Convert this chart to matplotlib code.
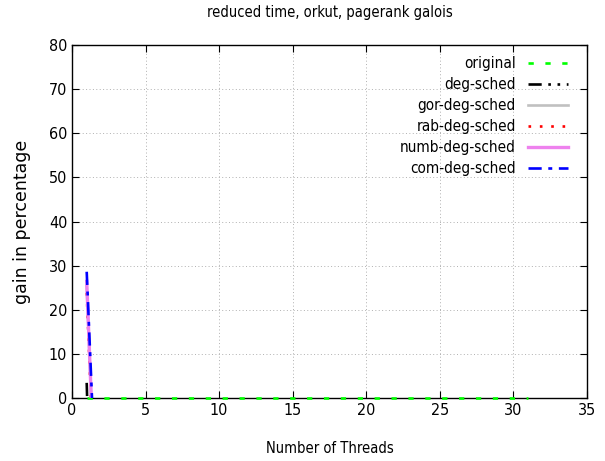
import matplotlib
matplotlib.use('Agg')
import matplotlib.pyplot as plt

# data (values below 0 are clipped by the y range, as in the original)
threads = [1, 2, 4, 8, 16, 31]
original = [0, 0, 0, 0, 0, 0]
deg_sched = [3.4, -110, -110, -110, -110, -110]
gor_deg_sched = [25.5, -58, -58, -58, -58, -58]
rab_deg_sched = [23.8, -60, -60, -60, -60, -60]
numb_deg_sched = [26.4, -59, -59, -59, -59, -59]
com_deg_sched = [28.6, -51, -51, -51, -51, -51]

labels = ['original', 'deg-sched', 'gor-deg-sched', 'rab-deg-sched',
          'numb-deg-sched', 'com-deg-sched']

fnt = dict(family='DejaVu Sans', stretch='condensed')

fig = plt.figure(figsize=(6.05, 4.61), dpi=100)
ax = fig.add_axes([0.119, 0.137, 0.851, 0.765])

lw = 1.9
ax.plot(threads, original, color='#00ff00', lw=lw, dashes=(2, 4.4), label=labels[0], zorder=3, clip_on=False)
ax.plot(threads, deg_sched, color='black', lw=lw, dashes=(5, 2.5, 1, 2.5, 1, 2.5, 1, 2.5), label=labels[1], zorder=3)
ax.plot(threads, gor_deg_sched, color='#c0c0c0', lw=lw, label=labels[2], zorder=3)
ax.plot(threads, rab_deg_sched, color='red', lw=lw, dashes=(1, 3.3), label=labels[3], zorder=3)
ax.plot(threads, numb_deg_sched, color='#ee82ee', lw=lw + 0.5, label=labels[4], zorder=3)
ax.plot(threads, com_deg_sched, color='blue', lw=lw, dashes=(5, 2.5, 1.5, 2.5), label=labels[5], zorder=3)

ax.set_xlim(0, 35)
ax.set_ylim(0, 80)
ax.set_xticks(range(0, 36, 5))
ax.set_yticks(range(0, 81, 10))
ax.grid(True, color='#b0b0b0', linestyle=(0, (1, 2.5)), linewidth=0.7)
ax.tick_params(direction='in', top=True, right=True, length=5, width=0.8, labelsize=11.5)
for lab in ax.get_xticklabels() + ax.get_yticklabels():
    lab.set_fontstretch('condensed')
for s in ax.spines.values():
    s.set_linewidth(1.0)

ax.set_title('reduced time, orkut, pagerank galois', fontsize=10.5, pad=20, **fnt)
ax.set_xlabel('Number of Threads', fontsize=10.5, labelpad=17, **fnt)
ax.set_ylabel('gain in percentage', fontsize=12.5, labelpad=13)

leg = ax.legend(loc='upper right', bbox_to_anchor=(0.975, 0.987), frameon=False,
                markerfirst=False, handlelength=2.6, labelspacing=0.4,
                handletextpad=0.8, borderaxespad=0, prop=dict(size=11, **fnt))

fig.savefig('out.png', dpi=100)
